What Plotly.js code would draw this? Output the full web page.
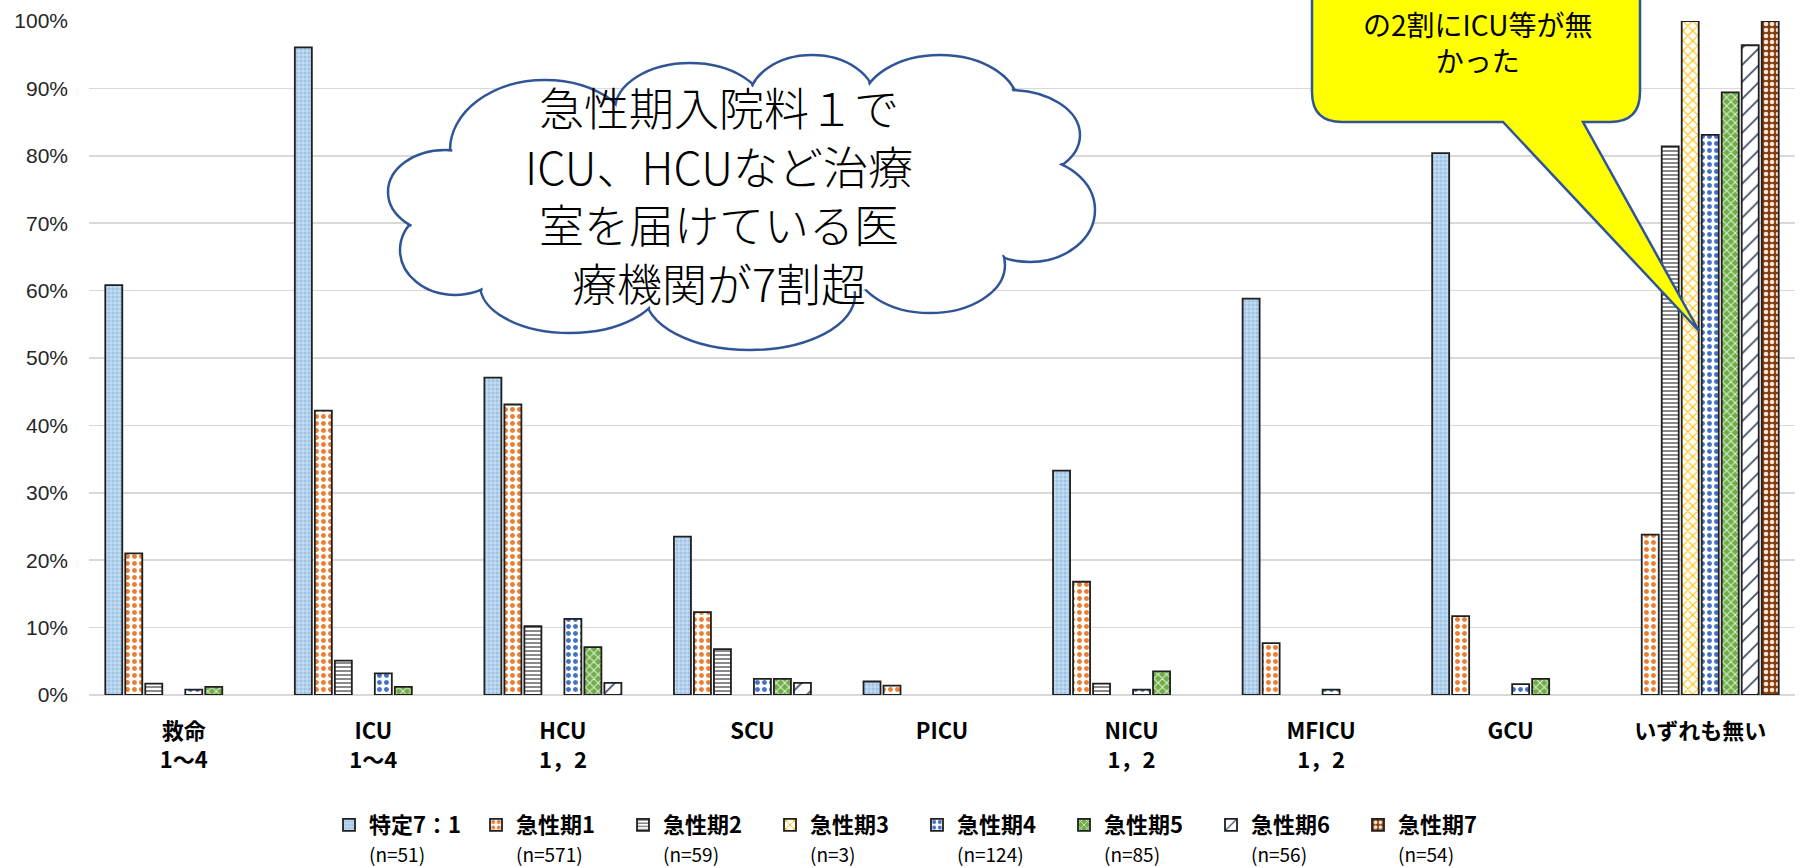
<!DOCTYPE html>
<html>
<head>
<meta charset="utf-8">
<script src="https://cdn.plot.ly/plotly-3.0.1.min.js"></script>
<style>html,body{margin:0;padding:0;background:#fff;}#chart{width:1802px;height:868px;}</style>
</head>
<body>
<div id="chart"></div>
<script>
// ---- data ----
const categories = ['救命', 'ICU', 'HCU', 'SCU', 'PICU', 'NICU', 'MFICU', 'GCU', 'いずれも無い'];
const subLabels  = ['1～4', '1～4', '1，2', '', '', '1，2', '1，2', '', ''];
const seriesNames = ['特定7：1', '急性期1', '急性期2', '急性期3', '急性期4', '急性期5', '急性期6', '急性期7'];
const seriesN = [51, 571, 59, 3, 124, 85, 56, 54];
const tokutei  = [60.8, 96.1, 47.1, 23.5, 2.0, 33.3, 58.8, 80.4, 0];
const kyusei1  = [21.0, 42.2, 43.1, 12.3, 1.4, 16.8, 7.7, 11.7, 23.8];
const kyusei2  = [1.7, 5.1, 10.2, 6.8, 0, 1.7, 0, 0, 81.4];
const kyusei3  = [0, 0, 0, 0, 0, 0, 0, 0, 100];
const kyusei4  = [0.8, 3.2, 11.3, 2.4, 0, 0.8, 0.8, 1.6, 83.1];
const kyusei5  = [1.2, 1.2, 7.1, 2.4, 0, 3.5, 0, 2.4, 89.4];
const kyusei6  = [0, 0, 1.8, 1.8, 0, 0, 0, 0, 96.4];
const kyusei7  = [0, 0, 0, 0, 0, 0, 0, 0, 100];
const seriesValues = [tokutei, kyusei1, kyusei2, kyusei3, kyusei4, kyusei5, kyusei6, kyusei7];
const yTickVals = [0, 10, 20, 30, 40, 50, 60, 70, 80, 90, 100];

// ---- styles ----
const patterns = [
  {shape: '+', bgcolor: '#9DC3E6', fgcolor: '#E4EEF8', size: 4, solidity: 0.3},
  {shape: '.', bgcolor: '#FFFFFF', fgcolor: '#ED7D31', size: 7, solidity: 0.4},
  {shape: '-', bgcolor: '#FFFFFF', fgcolor: '#595959', size: 4, solidity: 0.35},
  {shape: 'x', bgcolor: '#FFFFFF', fgcolor: '#FFC000', size: 7, solidity: 0.3},
  {shape: '.', bgcolor: '#FFFFFF', fgcolor: '#4472C4', size: 7, solidity: 0.4},
  {shape: 'x', bgcolor: '#70AD47', fgcolor: '#E2F0D9', size: 6, solidity: 0.3},
  {shape: '/', bgcolor: '#FFFFFF', fgcolor: '#44546A', size: 12, solidity: 0.15},
  {shape: '.', bgcolor: '#843C0C', fgcolor: '#FBE5D6', size: 6, solidity: 0.45}
];
const baseColors = ['#9DC3E6', '#ED7D31', '#7F7F7F', '#FFC000', '#4472C4', '#70AD47', '#44546A', '#843C0C'];

const traces = seriesNames.map((name, i) => ({
  type: 'bar',
  name: '<b>' + name + '</b><br><span style="font-size:19px">(n=' + seriesN[i] + ')</span>',
  x: categories,
  y: seriesValues[i].map(v => (v === 0 ? null : v)),
  marker: {
    color: baseColors[i],
    line: {color: '#1F1F1F', width: 1.8},
    pattern: Object.assign({fillmode: 'replace'}, patterns[i])
  },
  hoverinfo: 'skip'
}));

// ---- geometry helpers (pixel -> paper) ----
const W = 1802, H = 868, ML = 89, MR = 7, MT = 21, MB = 173;
const PW = W - ML - MR, PH = H - MT - MB;
const px = x => (x - ML) / PW;
const py = y => 1 - (y - MT) / PH;

// cloud bumps (pixel ellipses)
const bumps = [
  [545, 150, 95, 70], [690, 110, 75, 47], [812, 100, 63, 45], [940, 105, 78, 50],
  [1010, 135, 70, 45], [1030, 210, 65, 52], [930, 265, 75, 48], [750, 295, 105, 55],
  [570, 285, 90, 48], [455, 250, 55, 45], [445, 192, 57, 42]
];
const shapes = [];
function ell(cx, cy, rx, ry, fill, line) {
  return {type: 'circle', xref: 'paper', yref: 'paper', layer: 'above',
    x0: px(cx - rx), x1: px(cx + rx), y0: py(cy + ry), y1: py(cy - ry),
    fillcolor: fill, line: line};
}
bumps.forEach(b => shapes.push(ell(b[0], b[1], b[2], b[3], '#FFFFFF', {color: '#2F5597', width: 2.5})));
bumps.forEach(b => shapes.push(ell(b[0], b[1], b[2] - 2.2, b[3] - 2.2, '#FFFFFF', {width: 0})));
shapes.push(ell(740, 200, 280, 100, '#FFFFFF', {width: 0}));

// yellow callout
(function () {
  const L = 1312, R = 1640, T = -30, B = 122, r = 30;
  const pts = p => px(p[0]) + ',' + py(p[1]);
  const d = 'M' + pts([L, T]) + ' L' + pts([R, T]) + ' L' + pts([R, B - r]) +
    ' Q' + pts([R, B]) + ' ' + pts([R - r, B]) + ' L' + pts([1583, B]) +
    ' L' + pts([1699, 331]) + ' L' + pts([1503, B]) + ' L' + pts([L + r, B]) +
    ' Q' + pts([L, B]) + ' ' + pts([L, B - r]) + ' Z';
  shapes.push({type: 'path', xref: 'paper', yref: 'paper', layer: 'above', path: d,
    fillcolor: '#FFFF00', line: {color: '#2F5597', width: 2.5}});
})();

const annotations = [
  {xref: 'paper', yref: 'paper', x: px(719), y: py(194), xanchor: 'center', yanchor: 'middle',
   showarrow: false, align: 'center',
   text: '急性期入院料１で<br>ICU、HCUなど治療<br>室を届けている医<br>療機関が7割超',
   font: {family: 'Noto Sans CJK JP', size: 45, color: '#000000', weight: 300}},
  {xref: 'paper', yref: 'paper', x: px(1477), y: py(42), xanchor: 'center', yanchor: 'middle',
   showarrow: false, align: 'center',
   text: 'の2割にICU等が無<br>かった',
   font: {family: 'Noto Sans CJK JP', size: 28, color: '#000000'}}
];

const layout = {
  width: W, height: H,
  margin: {l: ML, r: MR, t: MT, b: MB, autoexpand: false},
  paper_bgcolor: '#FFFFFF', plot_bgcolor: '#FFFFFF',
  font: {family: 'Noto Sans CJK JP', color: '#000000'},
  barmode: 'group', bargap: 0.156, bargroupgap: 0.15,
  showlegend: true,
  legend: {orientation: 'h', x: px(329), xanchor: 'left', y: py(804), yanchor: 'top',
    valign: 'top', entrywidth: 102, entrywidthmode: 'pixels', traceorder: 'normal',
    font: {family: 'Noto Sans CJK JP', size: 22, color: '#000000'}, bgcolor: 'rgba(0,0,0,0)'},
  xaxis: {
    tickmode: 'array', tickvals: categories,
    ticktext: categories.map((c, i) => subLabels[i] ? '<b>' + c + '</b><br><b>' + subLabels[i] + '</b>' : '<b>' + c + '</b>'),
    tickfont: {family: 'Noto Sans CJK JP', size: 22, color: '#000000'},
    ticks: '', showline: false, showgrid: false, zeroline: false,
    ticklabelstandoff: 21, automargin: false, fixedrange: true
  },
  yaxis: {
    range: [0, 100], tickmode: 'array', tickvals: yTickVals,
    ticktext: yTickVals.map(v => v + '%'),
    tickfont: {family: 'Liberation Sans', size: 21, color: '#262626'},
    ticks: '', showline: false, showgrid: true, gridcolor: '#D9D9D9', gridwidth: 1.5,
    zeroline: true, zerolinecolor: '#D9D9D9', zerolinewidth: 1.5,
    ticklabelstandoff: 20, automargin: false, fixedrange: true
  },
  shapes: shapes,
  annotations: annotations
};

Plotly.newPlot('chart', traces, layout, {displayModeBar: false, staticPlot: true});
</script>
</body>
</html>
